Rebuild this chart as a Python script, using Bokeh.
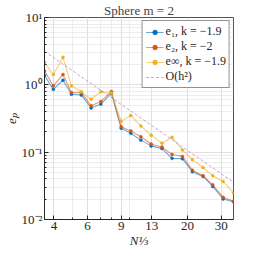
from bokeh.plotting import figure
from bokeh.models import Range1d, FixedTicker, CustomJSTickFormatter
from bokeh.embed import file_html
from bokeh.resources import INLINE

n_cbrt = [3.57, 3.97, 4.46, 4.94, 5.56, 6.26, 7.04, 7.99, 8.99, 10.1,
          11.4, 12.9, 14.7, 16.6, 18.8, 21.2, 24.1, 27.1, 30.7, 34.8]
e1 = [1.38, 0.857, 1.17, 0.725, 0.708, 0.453, 0.518, 0.745, 0.226, 0.191,
      0.151, 0.124, 0.113, 0.0809, 0.080, 0.0513, 0.0437, 0.031, 0.0202, 0.0183]
e2 = [1.60, 0.967, 1.42, 0.765, 0.765, 0.490, 0.565, 0.796, 0.238, 0.207,
      0.169, 0.132, 0.119, 0.0925, 0.0865, 0.054, 0.0448, 0.0327, 0.0214, 0.0187]
einf = [2.16, 1.42, 2.56, 0.967, 0.791, 0.612, 0.791, 0.757, 0.289, 0.350,
        0.245, 0.179, 0.136, 0.166, 0.108, 0.0774, 0.0592, 0.0448, 0.0367, 0.0248]
ref_x = [3.57, 34.8]
ref_y = [3.15, 0.0358]

labels = ["e\u2081, k = \u22121.9", "e\u2082, k = \u22122", "e\u221e, k = \u22121.9", "O(h\u00b2)"]
colors = ["#0072BD", "#D95319", "#EDB120"]
x_ticks = [4, 6, 9, 13, 20, 30]
x_minor = [4, 5, 6, 7, 8, 9, 10, 20, 30]
y_ticks = [0.01, 0.1, 1, 10]
y_minor = [m * d for d in [0.01, 0.1, 1] for m in range(2, 10)]
x_label = "N\u2153"
y_label = "e\u209a"

SERIF = "serif"

p = figure(width=250, height=250, x_axis_type="log", y_axis_type="log",
           x_range=Range1d(n_cbrt[0], n_cbrt[-1]), y_range=Range1d(0.01, 10),
           output_backend="svg", toolbar_location=None,
           min_border_left=39, min_border_right=17, min_border_top=13, min_border_bottom=31)
p.background_fill_color = "white"
p.border_fill_color = "white"
p.outline_line_color = "#262626"
p.outline_line_width = 0.8

p.title.text = "Sphere m = 2"
p.title.align = "center"
p.title.text_font = SERIF
p.title.text_font_size = "13px"
p.title.text_font_style = "normal"
p.title.standoff = 0
p.title.offset = 0

for series, col, lab in zip([e1, e2, einf], colors, labels[:3]):
    p.line(n_cbrt, series, line_color=col, line_alpha=0.6, line_width=1.1, legend_label=lab)
    p.scatter(n_cbrt, series, marker="circle", size=3, fill_color=col, line_color=col,
              line_width=0.5, legend_label=lab)
p.line(ref_x, ref_y, line_color="#B07CC6", line_alpha=0.7, line_width=1, line_dash="3 2", legend_label=labels[3])

xt = FixedTicker(ticks=x_ticks, minor_ticks=x_minor)
yt = FixedTicker(ticks=y_ticks, minor_ticks=y_minor)
yfmt = CustomJSTickFormatter(code="""
const e = Math.round(Math.log10(tick));
const m = {'-2':'10\u207b\u00b2','-1':'10\u207b\u00b9','0':'10\u2070','1':'10\u00b9'};
return m[String(e)];
""")

xa = p.xaxis[0]
ya = p.yaxis[0]
xa.ticker = xt
ya.ticker = yt
ya.formatter = yfmt
for ax in (xa, ya):
    ax.axis_line_color = "#262626"
    ax.major_tick_in = 4
    ax.major_tick_out = 0
    ax.minor_tick_in = 2
    ax.minor_tick_out = 0
    ax.major_tick_line_color = "#262626"
    ax.minor_tick_line_color = "#262626"
    ax.major_label_text_font = SERIF
    ax.major_label_text_font_size = "13px"
    ax.major_label_text_color = "#262626"
    ax.axis_label_text_font = SERIF
    ax.axis_label_text_font_size = "13px"
    ax.axis_label_text_font_style = "italic"
    ax.axis_label_text_color = "#262626"
    ax.major_label_standoff = 2
    ax.axis_label_standoff = 0
xa.axis_label = x_label
ya.axis_label = y_label

p.xgrid.ticker = xt
p.ygrid.ticker = yt
for g in (p.xgrid, p.ygrid):
    g.grid_line_color = "#d9d9d9"
    g.grid_line_alpha = 0.8
    g.minor_grid_line_color = "#e6e6e6"
    g.minor_grid_line_alpha = 0.7

lg = p.legend[0]
lg.location = "top_right"
lg.label_text_font = SERIF
lg.label_text_font_size = "12px"
lg.label_text_color = "#262626"
lg.label_height = 12
lg.glyph_height = 12
lg.glyph_width = 18
lg.spacing = 0
lg.padding = 3
lg.margin = 3
lg.label_standoff = 2
lg.border_line_color = "#262626"
lg.border_line_width = 0.8
lg.background_fill_alpha = 1.0

open("out.html", "w").write(file_html(p, INLINE))
